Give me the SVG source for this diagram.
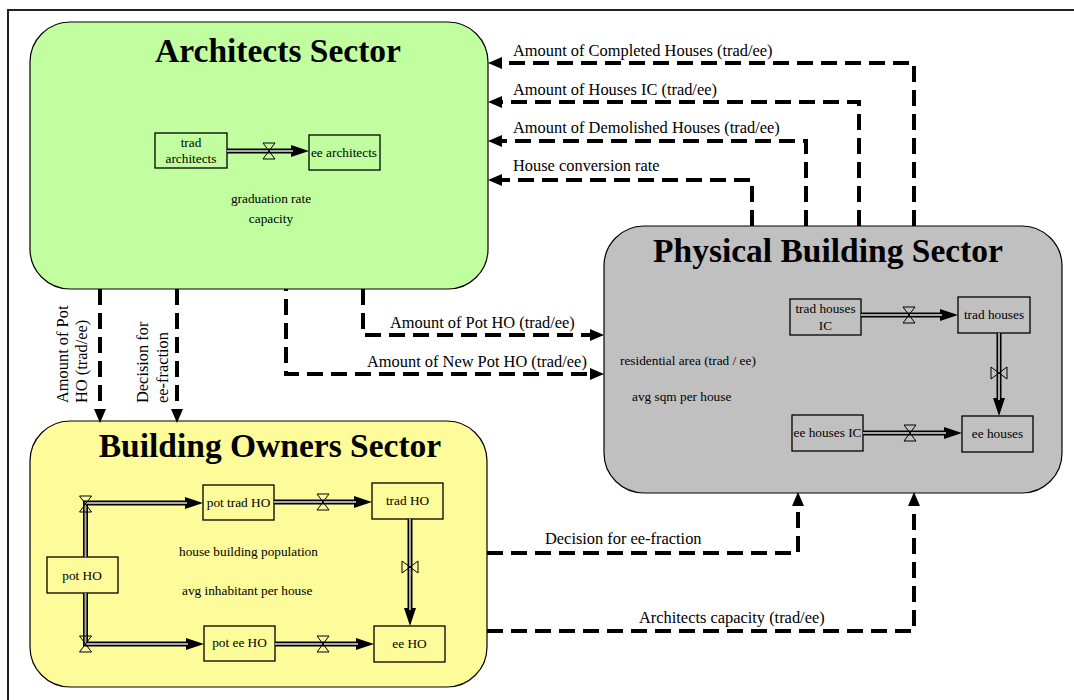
<svg xmlns="http://www.w3.org/2000/svg" width="1074" height="700" viewBox="0 0 1074 700">
<style>
text{font-family:"Liberation Serif","Times New Roman",serif;fill:#000}
.title{font-size:33.5px;font-weight:bold;text-anchor:middle}
.lbl{font-size:16.4px}
.in{font-size:13.3px}
.mid{text-anchor:middle}
.sector{stroke:#000;stroke-width:1.2}
.stock{fill:none;stroke:#000;stroke-width:1.3}
.link{fill:none;stroke:#000;stroke-width:4;stroke-dasharray:16 8;marker-end:url(#dash-arrow)}
.pipe{fill:none;stroke:#000;stroke-width:5;marker-end:url(#flow-arrow)}
.pipe-in{fill:none;stroke:#a8a8a8;stroke-width:2}
.valve{fill:none;stroke:#000;stroke-width:1}
</style>
<defs>
<marker id="dash-arrow" markerUnits="userSpaceOnUse" markerWidth="14" markerHeight="12" refX="0" refY="6" orient="auto" viewBox="0 0 14 12"><path d="M0,0 L14,6 L0,12 Z" fill="#000"/></marker>
<marker id="flow-arrow" markerUnits="userSpaceOnUse" markerWidth="18" markerHeight="12" refX="0" refY="6" orient="auto" viewBox="0 0 18 12"><path d="M0,0 L18,6 L0,12 Z" fill="#000"/></marker>
<path id="valve-h" class="valve" d="M-6,-8 H6 L-6,8 H6 Z"/>
<path id="valve-v" class="valve" d="M-8,-6 V6 L8,-6 V6 Z"/>
</defs>
<rect x="0" y="0" width="1074" height="700" fill="#fff"/>
<rect x="8" y="10" width="1100" height="720" fill="#fff" stroke="#222" stroke-width="2"/>

<g id="architects-sector">
<rect class="sector" x="30" y="22" width="458" height="267" rx="40" fill="#c1fe9f"/>
<text class="title" x="278" y="62">Architects Sector</text>
<g id="trad-architects"><rect class="stock" x="155" y="133" width="72" height="35"/><text class="in mid" x="191" y="147">trad</text><text class="in mid" x="191" y="163">architects</text></g>
<g id="ee-architects"><rect class="stock" x="309" y="135" width="71" height="35"/><text class="in mid" x="344" y="157">ee architects</text></g>
<text class="in mid" x="271" y="203">graduation rate</text>
<text class="in mid" x="271" y="223">capacity</text>
</g>

<g id="building-owners-sector">
<rect class="sector" x="30" y="421" width="457" height="266" rx="40" fill="#fdfb9a"/>
<text class="title" x="270" y="457">Building Owners Sector</text>
<g id="pot-ho"><rect class="stock" x="47" y="557" width="71" height="36"/><text class="in mid" x="82" y="580">pot HO</text></g>
<g id="pot-trad-ho"><rect class="stock" x="203" y="485" width="71" height="35"/><text class="in mid" x="238.5" y="507">pot trad HO</text></g>
<g id="trad-ho"><rect class="stock" x="372" y="483" width="71" height="36"/><text class="in mid" x="407.5" y="505">trad HO</text></g>
<g id="pot-ee-ho"><rect class="stock" x="204" y="626" width="71" height="35"/><text class="in mid" x="239.5" y="647">pot ee HO</text></g>
<g id="ee-ho"><rect class="stock" x="374" y="626" width="71" height="36"/><text class="in mid" x="409.5" y="648">ee HO</text></g>
<text class="in" x="179" y="556">house building population</text>
<text class="in" x="182" y="595">avg inhabitant per house</text>
</g>

<g id="physical-building-sector">
<rect class="sector" x="604" y="226" width="458" height="267" rx="40" fill="#c0c0c0"/>
<text class="title" x="828" y="262">Physical Building Sector</text>
<g id="trad-houses-ic"><rect class="stock" x="790" y="299" width="71" height="36"/><text class="in mid" x="825.5" y="313">trad houses</text><text class="in mid" x="825.5" y="330">IC</text></g>
<g id="trad-houses"><rect class="stock" x="958" y="297" width="72" height="36"/><text class="in mid" x="994" y="319">trad houses</text></g>
<g id="ee-houses-ic"><rect class="stock" x="792" y="415" width="71" height="36"/><text class="in mid" x="827.5" y="437">ee houses IC</text></g>
<g id="ee-houses"><rect class="stock" x="962" y="416" width="71" height="36"/><text class="in mid" x="997.5" y="438">ee houses</text></g>
<text class="in" x="620" y="365">residential area (trad / ee)</text>
<text class="in" x="632" y="401">avg sqm per house</text>
</g>

<g id="flows">
<path class="pipe" d="M227,151 H291"/><path class="pipe-in" d="M227,151 H293"/><use href="#valve-h" x="269" y="151"/>
<path class="pipe" d="M85.5,557 V503 H185"/><path class="pipe-in" d="M85.5,557 V503 H187"/><use href="#valve-h" x="85.5" y="504"/>
<path class="pipe" d="M85.5,593 V644 H186"/><path class="pipe-in" d="M85.5,593 V644 H188"/><use href="#valve-h" x="85.5" y="644"/>
<path class="pipe" d="M274,502 H354"/><path class="pipe-in" d="M274,502 H356"/><use href="#valve-h" x="323" y="502"/>
<path class="pipe" d="M275,644 H356"/><path class="pipe-in" d="M275,644 H358"/><use href="#valve-h" x="323" y="644"/>
<path class="pipe" d="M410,519 V608"/><path class="pipe-in" d="M410,519 V610"/><use href="#valve-v" x="410" y="567"/>
<path class="pipe" d="M861,315 H940"/><path class="pipe-in" d="M861,315 H942"/><use href="#valve-h" x="909" y="315"/>
<path class="pipe" d="M863,433 H944"/><path class="pipe-in" d="M863,433 H946"/><use href="#valve-h" x="910" y="433"/>
<path class="pipe" d="M999,333 V398"/><path class="pipe-in" d="M999,333 V400"/><use href="#valve-v" x="999" y="373"/>
</g>

<g id="connectors">
<path class="link" d="M914,226 V63 H502"/>
<path class="link" d="M859,226 V102 H502"/>
<path class="link" d="M806,226 V141 H502"/>
<path class="link" d="M752,226 V180 H502"/>
<path class="link" d="M363,289 V335 H590"/>
<path class="link" d="M286,289 V374 H590" stroke-dashoffset="-10"/>
<path class="link" d="M100,289 V409"/>
<path class="link" d="M177,289 V409"/>
<path class="link" d="M487,553 H798 V506"/>
<path class="link" d="M487,631 H914 V506"/>
<text class="lbl" x="513" y="56">Amount of Completed Houses (trad/ee)</text>
<text class="lbl" x="513" y="95">Amount of Houses IC (trad/ee)</text>
<text class="lbl" x="513" y="133">Amount of Demolished Houses (trad/ee)</text>
<text class="lbl" x="513" y="171">House conversion rate</text>
<text class="lbl" x="390" y="328">Amount of Pot HO (trad/ee)</text>
<text class="lbl" x="367" y="367">Amount of New Pot HO (trad/ee)</text>
<text class="lbl" x="545" y="544">Decision for ee-fraction</text>
<text class="lbl" x="639" y="623">Architects capacity (trad/ee)</text>
<text class="lbl" transform="translate(68,403) rotate(-90)">Amount of Pot</text>
<text class="lbl" transform="translate(87,403) rotate(-90)">HO (trad/ee)</text>
<text class="lbl" transform="translate(148,403) rotate(-90)">Decision for</text>
<text class="lbl" transform="translate(168,403) rotate(-90)">ee-fraction</text>
</g>
</svg>
